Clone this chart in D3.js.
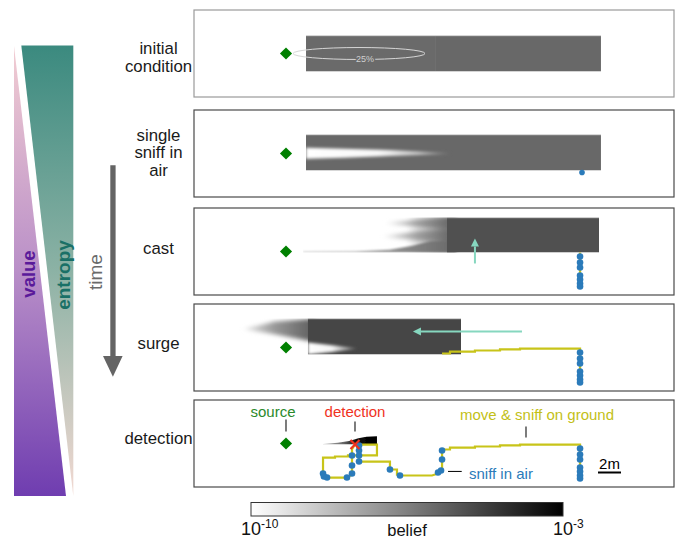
<!DOCTYPE html>
<html><head><meta charset="utf-8">
<script src="https://cdn.jsdelivr.net/npm/d3@7"></script>
<style>
body{margin:0;background:#fff}
svg{display:block}
text{font-family:"Liberation Sans",Arial,Helvetica,sans-serif}
</style>
</head><body>
<svg id="c" width="678" height="540"></svg>
<script>
// ================= DATA (metres, relative to odour source; y up) =================
const stages = [["initial","condition"],["single","sniff in","air"],["cast"],["surge"],["detection"]];
const beliefRange = [-10, -3];            // log10(belief) mapped white -> black
const colorbarTicks = [{v:-10, base:"10", exp:"-10"}, {v:-3, base:"10", exp:"-3"}];
const colorbarTitle = "belief";

// visible belief-map extent per stage [xmin, xmax, ymin, ymax]
const gridExtent = [
  [1.74, 27.39, -1.57, 1.57],
  [1.74, 27.39, -1.48, 1.65],
  [1.48, 27.22, -0.09, 2.96],
  [-4.5, 15.22, -0.61, 2.52],
  [2.5, 8.2, -0.09, 0.75]
];
// uniform belief blocks
const beliefRects = [
  {stage:0, x0:1.74, x1:13.04, y0:-1.57, y1:1.57, logb:-5.9},
  {stage:0, x0:13.04, x1:27.39, y0:-1.57, y1:1.57, logb:-5.85},
  {stage:1, x0:1.74, x1:27.39, y0:-1.48, y1:1.65, logb:-5.86},
  {stage:2, x0:14.0, x1:27.22, y0:-0.09, y1:2.96, logb:-5.2},
  {stage:3, x0:1.91, x1:15.22, y0:-0.61, y1:2.52, logb:-4.92}
];
// plume-shaped belief features: outline + belief along x; under = drawn beneath the blocks
const beliefPlumes = [
  {stage:1, under:false, blur:1.8, pts:[[1.74,0.5],[5,0.42],[9,0.3],[12.5,0.14],[14.3,0.05],[14.3,-0.05],[12.5,-0.1],[9,-0.22],[5,-0.36],[1.74,-0.45]],
   stops:[[1.74,-10],[8,-9.8],[11.5,-8.3],[14.3,-5.86]]},
  {stage:2, under:true, blur:2.2, pts:[[10.5,2.96],[14.8,2.96],[14.8,-0.09],[10.5,-0.09]],
   stops:[[10.5,-10],[12.5,-8.0],[14.0,-6.3]]},
  {stage:2, under:true, blur:2.0, pts:[[14.8,2.96],[11.5,2.75],[8.6,2.45],[11.5,2.15],[14.8,1.95]],
   stops:[[8.6,-9.5],[11.5,-7.3],[14.0,-6.0]]},
  {stage:2, under:true, blur:2.0, pts:[[14.8,1.95],[11.5,1.75],[8.4,1.3],[11.5,0.95],[14.8,0.75]],
   stops:[[8.4,-9.5],[11.5,-7.3],[14.0,-6.0]]},
  {stage:2, under:true, blur:1.2, pts:[[1.48,-0.02],[6,0.0],[9,0.15],[11,0.5],[12.5,0.9],[14.8,1.0],[14.8,-0.09],[1.48,-0.09]],
   stops:[[1.48,-7.4],[9,-7.0],[14.0,-6.0]]},
  {stage:3, under:true, blur:2.0, pts:[[2.6,2.52],[-1,2.25],[-3.74,1.6],[-1,1.15],[2.6,0.45]],
   stops:[[-3.74,-9.5],[-1,-7.2],[1.91,-5.8]]},
  {stage:3, under:false, blur:1.8, pts:[[1.91,0.43],[4.0,0.2],[6.2,-0.09],[4.0,-0.4],[1.91,-0.61]],
   stops:[[1.91,-10],[4.0,-9.7],[5.5,-7.2],[6.6,-4.92]]},
  {stage:4, under:false, blur:0.6, pts:[[3.22,-0.04],[4.5,0.06],[5.5,0.22],[6.3,0.45],[7.0,0.58],[7.91,0.62],[7.91,-0.09],[3.22,-0.09]],
   stops:[[3.22,-8.2],[5.0,-5.8],[6.2,-3.3],[7.91,-3]]}
];
// 25 % probability contour of the prior
const contours = [{stage:0, cx:6.35, cy:0, rx:5.74, ry:0.52, label:"25%", lx:6.87, ly:-0.48}];

// agent trajectory (ground moves), in time order
const trajectory = [
  [25.57,-3.13],[25.57,-0.09],[20.35,-0.09],[20.35,-0.17],[18.61,-0.17],[18.61,-0.26],[16.43,-0.26],
  [16.43,-0.35],[14.26,-0.35],[14.26,-0.52],[13.57,-0.52],
  [13.57,-2.35],[13.22,-2.61],[12.70,-2.78],[9.91,-2.78],[9.65,-2.70],[9.65,-2.26],[9.04,-2.26],
  [9.04,-1.57],[6.35,-1.57],[6.35,-1.04],[7.91,-1.04],[7.91,-0.09],[6.35,-0.09],[6.35,-1.04],
  [5.74,-1.04],[5.74,-2.70],[5.30,-2.96],[3.57,-2.96],[3.22,-2.78],[3.22,-1.22],[4.26,-1.22],
  [4.26,-1.13],[5.39,-1.13],[5.39,-1.04],[5.74,-1.04],[5.74,-0.50],[6.0,-0.09]
];
const trajectoryShown = [0, 0, 2, 11, trajectory.length];
// sniffs in air [x, y, firstStage, lastStage]
const sniffs = [
  [25.74,-1.65,1,1],
  [25.57,-0.43,2,4],[25.57,-0.96,2,4],[25.57,-1.39,2,4],[25.57,-2.09,2,4],[25.57,-2.43,2,4],[25.57,-2.78,2,4],[25.57,-3.04,2,4],
  [13.57,-0.61,4,4],[13.57,-1.39,4,4],[13.48,-2.35,4,4],[13.22,-2.52,4,4],
  [9.91,-2.78,4,4],[9.04,-2.26,4,4],
  [6.35,-0.17,4,4],[6.35,-0.61,4,4],[6.35,-1.04,4,4],[6.35,-1.57,4,4],
  [5.74,-1.04,4,4],[5.74,-1.91,4,4],[5.74,-2.61,4,4],[5.30,-2.96,4,4],
  [3.22,-2.61,4,4],[3.30,-2.87,4,4],[3.57,-2.96,4,4]
];
const moveArrows = [
  {stage:2, from:[16.43,-1.04], to:[16.43,1.13]},
  {stage:3, from:[20.52,1.39], to:[11.04,1.39]}
];
const source = [0, 0];
const detection = {stage:4, x:6.0, y:-0.09};
const annotations = [
  {text:"source", x:-1.13, y:2.78, anchor:"middle", color:"#2b8a2b", tick:[[0,2.09],[0,1.04]]},
  {text:"detection", x:6.0, y:2.78, anchor:"middle", color:"#f0321e", tick:[[6.0,1.91],[6.0,1.04]]},
  {text:"move & sniff on ground", x:21.83, y:2.52, anchor:"middle", color:"#c3bf18", tick:[[20.87,1.48],[20.87,0.52]]},
  {text:"sniff in air", x:15.91, y:-2.61, anchor:"start", color:"#2b7bba", tick:[[14.09,-2.43],[15.28,-2.43]]}
];
const scaleBar = {length:2, x0:27.13, y:-2.52, label:"2m"};
// side wedges: relative width at start / end of time
const valueLevel = [0, 1];
const entropyLevel = [1, 0];
const valueColors = ["#f2cdd2", "#b98fc8", "#6f3db0"];
const entropyColors = ["#3b8a7f", "#8cb2a5", "#f2d9d2"];

// ================= DRAWING =================
const svg = d3.select("#c");
const defs = svg.append("defs");
const color = d3.scaleLinear().domain(beliefRange).range(["#ffffff","#000000"]).clamp(true);
const x = d3.scaleLinear().domain([-8, 33.74]).range([194, 674]);
const panelTop = [10, 110, 208, 304, 400], panelH = 87;
const yFor = i => d3.scaleLinear().domain([3.78, -3.78]).range([panelTop[i], panelTop[i] + panelH]);
const pxPerM = x(1) - x(0);

// ---- side wedges ----
const ty = d3.scaleLinear().domain([0, 1]).range([46, 496]);
function vGrad(id, cols){
  const lg = defs.append("linearGradient").attr("id", id).attr("x1",0).attr("y1",0).attr("x2",0).attr("y2",1);
  cols.forEach((c,k)=> lg.append("stop").attr("offset", k/(cols.length-1)).attr("stop-color", c));
}
vGrad("gValue", valueColors);
vGrad("gEntropy", entropyColors);
const wv = d3.scaleLinear().domain([0,1]).range([0, 52]);
svg.append("path").attr("fill","url(#gValue)")
  .attr("d", d3.line()([[14, ty(0)],[14 + wv(valueLevel[0]), ty(0)],[14 + wv(valueLevel[1]), ty(1)],[14, ty(1)]]) + "Z");
svg.append("path").attr("fill","url(#gEntropy)")
  .attr("d", d3.line()([[73.3 - wv(entropyLevel[0]), ty(0) - 0.5],[73.3, ty(0) - 0.5],[73.3, ty(1)],[73.3 - wv(entropyLevel[1]), ty(1)]]) + "Z");
svg.append("text").text("value").attr("transform","translate(28.5,274) rotate(-90)")
  .attr("text-anchor","middle").attr("dominant-baseline","central")
  .attr("font-size",18.5).attr("font-weight","bold").attr("fill","#5a1a9a");
svg.append("text").text("entropy").attr("transform","translate(63.5,275) rotate(-90)")
  .attr("text-anchor","middle").attr("dominant-baseline","central")
  .attr("font-size",19).attr("font-weight","bold").attr("fill","#1a7066");
svg.append("text").text("time").attr("transform","translate(95,272) rotate(-90)")
  .attr("text-anchor","middle").attr("dominant-baseline","central")
  .attr("font-size",19).attr("fill","#6a6a6a");
// time arrow
svg.append("rect").attr("x",110.3).attr("y",ty(0.265)).attr("width",5.3).attr("height",ty(0.69)-ty(0.265)).attr("fill","#646464");
svg.append("path").attr("fill","#646464")
  .attr("d", d3.line()([[103, ty(0.689)],[122.6, ty(0.689)],[112.9, ty(0.735)]]) + "Z");

// ---- stage labels ----
const labelCenter = [57.5, 152.5, 248, 343, 438];
stages.forEach((lines,i)=>{
  const t = svg.append("text").attr("x",158.5).attr("text-anchor","middle").attr("font-size",16.8).attr("fill","#1a1a1a");
  lines.forEach((ln,k)=> t.append("tspan").attr("x",158.5)
    .attr("y", labelCenter[i] + (k - (lines.length-1)/2)*17.5).attr("dominant-baseline","central").text(ln));
});

// ---- panels ----
stages.forEach((_, i)=>{
  const y = yFor(i);
  const g = svg.append("g");
  g.append("rect").attr("x",194).attr("y",panelTop[i]).attr("width",480).attr("height",panelH).attr("fill","#fff");

  const ext = gridExtent[i];
  defs.append("clipPath").attr("id","clip"+i).append("rect")
    .attr("x", x(ext[0])).attr("y", y(ext[3])).attr("width", x(ext[1]) - x(ext[0])).attr("height", y(ext[2]) - y(ext[3]));
  const bg = g.append("g").attr("clip-path", `url(#clip${i})`);

  function drawPlumes(under){
    beliefPlumes.forEach((p,k)=>{
      if (p.stage !== i || p.under !== under) return;
      const gid = `pg${i}_${k}`, fid = `pf${i}_${k}`;
      const x0 = p.stops[0][0], x1 = p.stops[p.stops.length-1][0];
      const lg = defs.append("linearGradient").attr("id",gid).attr("gradientUnits","userSpaceOnUse")
        .attr("x1", x(x0)).attr("x2", x(x1)).attr("y1",0).attr("y2",0);
      p.stops.forEach(s=> lg.append("stop").attr("offset", (s[0]-x0)/(x1-x0)).attr("stop-color", color(s[1])));
      defs.append("filter").attr("id",fid).attr("filterUnits","userSpaceOnUse")
        .attr("x",0).attr("y",0).attr("width",678).attr("height",540)
        .append("feGaussianBlur").attr("stdDeviation", p.blur);
      bg.append("path").attr("d", d3.line().x(d=>x(d[0])).y(d=>y(d[1])).curve(d3.curveLinearClosed)(p.pts))
        .attr("fill", `url(#${gid})`).attr("filter", `url(#${fid})`);
    });
  }
  drawPlumes(true);
  beliefRects.filter(r=>r.stage===i).forEach(r=>{
    bg.append("rect").attr("x", x(r.x0)).attr("y", y(r.y1)).attr("width", x(r.x1)-x(r.x0)).attr("height", y(r.y0)-y(r.y1))
      .attr("fill", color(r.logb));
  });
  drawPlumes(false);
  // faint light top edge of the uniform blocks
  beliefRects.filter(r=>r.stage===i).forEach(r=>{
    g.append("line").attr("x1", x(r.x0)).attr("x2", x(r.x1)).attr("y1", y(r.y1) + 0.3).attr("y2", y(r.y1) + 0.3)
      .attr("stroke","#d8d8d8").attr("stroke-width",0.8).attr("stroke-opacity",0.8);
  });

  contours.filter(c=>c.stage===i).forEach(c=>{
    g.append("ellipse").attr("cx", x(c.cx)).attr("cy", y(c.cy)).attr("rx", c.rx*pxPerM).attr("ry", c.ry*pxPerM)
      .attr("fill","none").attr("stroke","#d6d6d6").attr("stroke-width",1);
    g.append("text").attr("x", x(c.lx)).attr("y", y(c.ly)).attr("text-anchor","middle").attr("dominant-baseline","central")
      .attr("font-size",9).attr("fill","#d0d0d0").attr("stroke", color(-5.9)).attr("stroke-width",3)
      .attr("paint-order","stroke").text(c.label);
  });

  moveArrows.filter(a=>a.stage===i).forEach(a=>{
    const x1 = x(a.from[0]), y1 = y(a.from[1]), x2 = x(a.to[0]), y2 = y(a.to[1]);
    const ang = Math.atan2(y2-y1, x2-x1), hl = 8, hw = 4;
    const bx = x2 - hl*Math.cos(ang), by = y2 - hl*Math.sin(ang);
    g.append("line").attr("x1",x1).attr("y1",y1).attr("x2",bx).attr("y2",by).attr("stroke","#86d7bf").attr("stroke-width",2);
    g.append("path").attr("fill","#86d7bf").attr("d", d3.line()([[x2,y2],
      [bx + hw*Math.sin(ang), by - hw*Math.cos(ang)],[bx - hw*Math.sin(ang), by + hw*Math.cos(ang)]]) + "Z");
  });

  const tr = trajectory.slice(0, trajectoryShown[i]);
  if (tr.length > 1) {
    g.append("path").attr("d", d3.line().x(d=>x(d[0])).y(d=>y(d[1]))(tr))
      .attr("fill","none").attr("stroke","#c8c419").attr("stroke-width",2.2).attr("stroke-linejoin","miter");
  }
  sniffs.filter(s=> i>=s[2] && i<=s[3]).forEach(s=>{
    g.append("circle").attr("cx", x(s[0])).attr("cy", y(s[1])).attr("r", i===1 ? 2.8 : 3.3).attr("fill","#2b7bba");
  });

  g.append("path").attr("d", d3.symbol(d3.symbolSquare, 74)())
    .attr("transform", `translate(${x(source[0])},${y(source[1])}) rotate(45)`).attr("fill","#008000");

  if (detection.stage === i) {
    const cx = x(detection.x), cy = y(detection.y), s = 4.5;
    g.append("path").attr("d", `M${cx-s},${cy-s}L${cx+s},${cy+s}M${cx-s},${cy+s}L${cx+s},${cy-s}`)
      .attr("stroke","#f0321e").attr("stroke-width",2.2);
  }
  if (i === 4) {
    annotations.forEach(a=>{
      g.append("text").attr("x", x(a.x)).attr("y", y(a.y)).attr("text-anchor", a.anchor).attr("dominant-baseline","central")
        .attr("font-size",15).attr("fill", a.color).text(a.text);
      g.append("line").attr("x1", x(a.tick[0][0])).attr("y1", y(a.tick[0][1])).attr("x2", x(a.tick[1][0])).attr("y2", y(a.tick[1][1]))
        .attr("stroke","#111").attr("stroke-width",1.1);
    });
    g.append("line").attr("x1", x(scaleBar.x0)).attr("x2", x(scaleBar.x0 + scaleBar.length))
      .attr("y1", y(scaleBar.y)).attr("y2", y(scaleBar.y)).attr("stroke","#000").attr("stroke-width",2);
    g.append("text").attr("x", x(scaleBar.x0 + scaleBar.length/2)).attr("y", y(scaleBar.y) - 9)
      .attr("text-anchor","middle").attr("dominant-baseline","central").attr("font-size",15).attr("fill","#000").text(scaleBar.label);
  }

  g.append("rect").attr("x",194).attr("y",panelTop[i]).attr("width",480).attr("height",panelH)
    .attr("fill","none").attr("stroke", i===0 ? "#9a9a9a" : "#4a4a4a").attr("stroke-width",1.2);
});

// ---- colorbar ----
const cb = d3.scaleLinear().domain(beliefRange).range([251, 563]);
const cg = defs.append("linearGradient").attr("id","gBar").attr("x1",0).attr("x2",1).attr("y1",0).attr("y2",0);
d3.range(0, 1.0001, 0.1).forEach(t=> cg.append("stop").attr("offset", t).attr("stop-color", color(beliefRange[0] + t*(beliefRange[1]-beliefRange[0]))));
svg.append("rect").attr("x", cb(beliefRange[0])).attr("y",502.5).attr("width", cb(beliefRange[1]) - cb(beliefRange[0])).attr("height",13.5)
  .attr("fill","url(#gBar)").attr("stroke","#333").attr("stroke-width",1);
colorbarTicks.forEach(t=>{
  const txt = svg.append("text").attr("y",535).attr("font-size",18).attr("fill","#111");
  txt.append("tspan").text(t.base);
  txt.append("tspan").attr("font-size",12).attr("dy",-7).text(t.exp);
  const bw = txt.select("tspan").node().getComputedTextLength();
  txt.attr("x", cb(t.v) - bw/2);
});
svg.append("text").attr("x", (cb(beliefRange[0]) + cb(beliefRange[1]))/2).attr("y",536).attr("text-anchor","middle")
  .attr("font-size",16.5).attr("fill","#111").text(colorbarTitle);
</script>
</body></html>
